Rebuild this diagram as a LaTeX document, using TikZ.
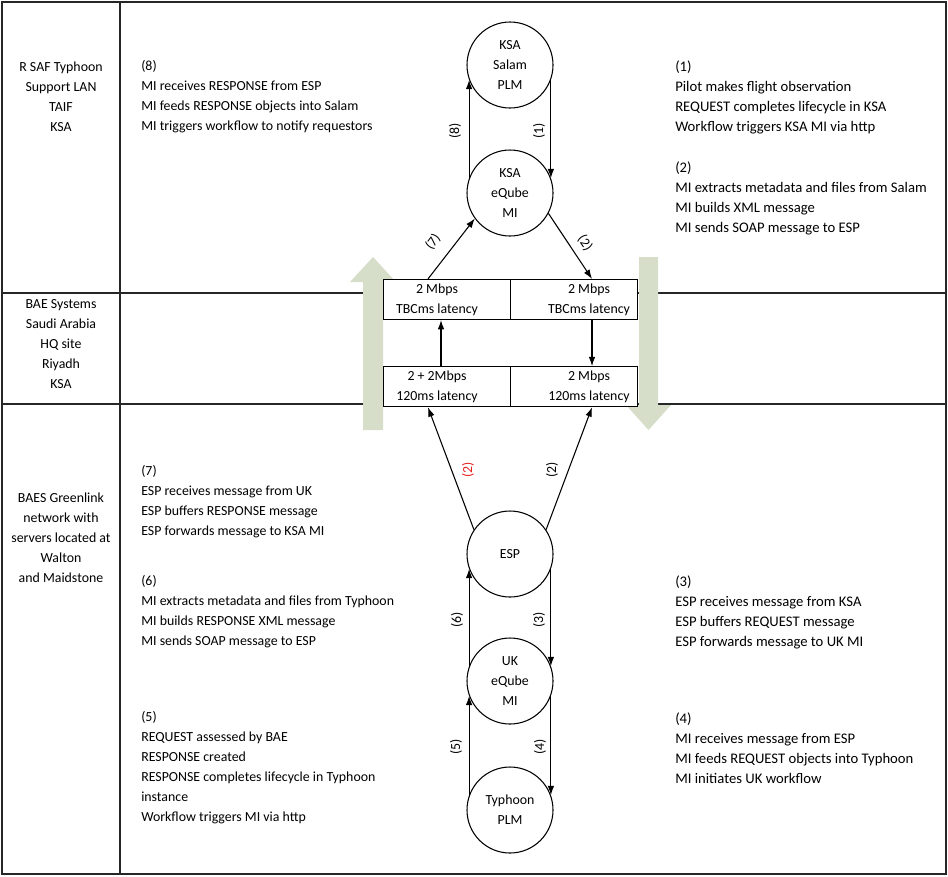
\documentclass[tikz,border=0pt]{standalone}
\usepackage{fontspec}
\setmainfont{Carlito}
\usetikzlibrary{arrows.meta,calc}
\definecolor{bigarrow}{RGB}{214,221,201}
\definecolor{lbred}{RGB}{230,30,30}
\begin{document}
\begin{tikzpicture}[x=0.75pt,y=-0.75pt,
  every node/.style={font=\fontsize{10.4}{15}\selectfont, inner sep=0pt},
  circ/.style={circle,draw,line width=0.8pt,minimum size=64.5pt,fill=white,align=center},
  linkbox/.style={rectangle,draw,line width=0.9pt,fill=white,minimum width=95.25pt,minimum height=30pt},
  arr/.style={line width=0.8pt,-{Latex[length=7pt,width=5pt]}},
  grid/.style={line width=1pt,draw=black!85},
  txt/.style={align=left,anchor=west},
  rtxt/.style={align=left,anchor=west,font=\fontsize{11}{15}\selectfont},
  site/.style={align=center},
  lbl/.style={rotate=90}
]
\useasboundingbox (0,0) rectangle (948,876);
% table
\draw[grid] (2,2) rectangle (946,874);
\draw[grid] (120,2) -- (120,874);
\draw[grid] (2,293) -- (946,293);
\draw[grid] (2,404) -- (946,404);
% big arrows
\fill[bigarrow] (363,430) -- (363,282) -- (350,282) -- (373,257) -- (396,282) -- (383,282) -- (383,430) -- cycle;
\fill[bigarrow] (639,257) -- (658,257) -- (658,405) -- (671,405) -- (648.5,430) -- (626,405) -- (639,405) -- cycle;
% site labels
\node[site] (s1) at (61,97) {R SAF Typhoon\\Support LAN\\TAIF\\KSA};
\node[site] (s2) at (61,344) {BAE Systems\\Saudi Arabia\\HQ site\\Riyadh\\KSA};
\node[site] (s3) at (61,538) {BAES Greenlink\\network with\\servers located at\\Walton\\and Maidstone};
% link boxes
\node[linkbox] (bUL) at (447,299.5) {};
\node[linkbox] (bUR) at (574,299.5) {};
\node[linkbox] (bLL) at (447,386.7) {};
\node[linkbox] (bLR) at (574,386.7) {};
\node[site] (tUL) at (437,300) {2 Mbps\\TBCms latency};
\node[site] (tUR) at (589,300) {2 Mbps\\TBCms latency};
\node[site] (tLL) at (437,386.5) {2 + 2Mbps\\120ms latency};
\node[site] (tLR) at (589,386.5) {2 Mbps\\120ms latency};
% circles
\node[circ] (salam) at (510,65) {KSA\\Salam\\PLM};
\node[circ] (eqksa) at (510,193) {KSA\\eQube\\MI};
\node[circ] (esp) at (510,554) {ESP};
\node[circ] (uk) at (510,681) {UK\\eQube\\MI};
\node[circ] (typ) at (510,810) {Typhoon\\PLM};
% arrows
\draw[arr] (eqksa.160) -- (salam.200);
\draw[arr] (salam.-20) -- (eqksa.20);
\draw[arr] ($(bUL.north)+(-19,0)$) -- (eqksa.216);
\draw[arr] (eqksa.-28) -- ($(bUR.north)+(18,0)$);
\draw[arr] ($(bLL.north)+(-6,0)$) -- ($(bUL.south)+(-6,0)$);
\draw[arr] ($(bUR.south)+(18,0)$) -- ($(bLR.north)+(18,0)$);
\draw[arr] (esp.146) -- ($(bLL.south)+(-19,0)$);
\draw[arr] (esp.34) -- ($(bLR.south)+(18,0)$);
\draw[arr] (uk.160) -- (esp.200);
\draw[arr] (esp.-20) -- (uk.20);
\draw[arr] (typ.160) -- (uk.200);
\draw[arr] (uk.-20) -- (typ.20);
% arrow labels
\node[lbl] (l8) at (455,131) {(8)};
\node[lbl] (l1) at (539,131) {(1)};
\node[rotate=53] (l7) at (433,242) {(7)};
\node[rotate=-56] (l2a) at (585,243) {(2)};
\node[lbl,text=lbred] (l2b) at (468,470) {(2)};
\node[lbl] (l2c) at (552,470) {(2)};
\node[lbl] (l6) at (457,620) {(6)};
\node[lbl] (l3) at (539,620) {(3)};
\node[lbl] (l5) at (456,747) {(5)};
\node[lbl] (l4) at (540,747) {(4)};
% step texts
\node[txt] (d8) at (141,97) {(8)\\MI receives RESPONSE from ESP\\MI feeds RESPONSE objects into Salam\\MI triggers workflow to notify requestors};
\node[rtxt] (d1) at (675,97) {(1)\\Pilot makes flight observation\\REQUEST completes lifecycle in KSA\\Workflow triggers KSA MI via http};
\node[rtxt] (d2) at (675,198) {(2)\\MI extracts metadata and files from Salam\\MI builds XML message\\MI sends SOAP message to ESP};
\node[txt] (d7) at (141,502) {(7)\\ESP receives message from UK\\ESP buffers RESPONSE message\\ESP forwards message to KSA MI};
\node[txt] (d6) at (141,612) {(6)\\MI extracts metadata and files from Typhoon\\MI builds RESPONSE XML message\\MI sends SOAP message to ESP};
\node[txt] (d5) at (141,768) {(5)\\REQUEST assessed by BAE\\RESPONSE created\\RESPONSE completes lifecycle in Typhoon\\instance\\Workflow triggers MI via http};
\node[rtxt] (d3) at (675,612) {(3)\\ESP receives message from KSA\\ESP buffers REQUEST message\\ESP forwards message to UK MI};
\node[rtxt] (d4) at (675,748) {(4)\\MI receives message from ESP\\MI feeds REQUEST objects into Typhoon\\MI initiates UK workflow};
\end{tikzpicture}
\end{document}
